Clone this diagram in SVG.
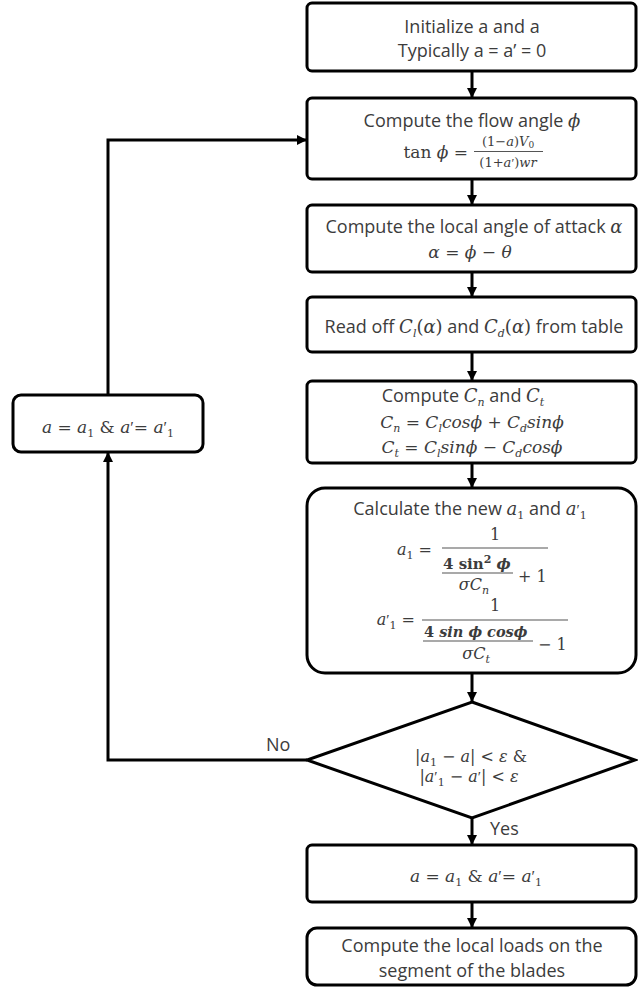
<svg xmlns="http://www.w3.org/2000/svg" width="638" height="990" viewBox="0 0 638 990">
<defs>
<style>
.box{fill:#fff;stroke:#000;stroke-width:3}
.c{fill:none;stroke:#000;stroke-width:3}
.fl{stroke:#555;stroke-width:1.2}
.t{font-family:"Open Sans","Liberation Sans",sans-serif;font-size:18px;fill:#3c3c3c}
.m{font-family:"DejaVu Serif","Liberation Serif",serif;font-style:italic;font-size:17px;fill:#3c3c3c}
.m2{font-family:"DejaVu Serif","Liberation Serif",serif;font-style:italic;font-size:16px;fill:#3c3c3c}
.mi{font-family:"DejaVu Serif","Liberation Serif",serif;font-style:italic}
.mr{font-family:"DejaVu Serif","Liberation Serif",serif;font-style:normal}
.pr{font-family:"Liberation Serif",serif;font-style:normal}
.sb{font-size:11px}
.mid{text-anchor:middle}
.end{text-anchor:end}
</style>
<marker id="ah" markerUnits="userSpaceOnUse" markerWidth="10" markerHeight="10" refX="10" refY="5" orient="auto">
<path d="M0,0 L10,5 L0,10 z" fill="#000"/>
</marker>
</defs>
<rect width="638" height="990" fill="#fff"/>

<g id="connectors">
<line class="c" x1="472" y1="71" x2="472" y2="98" marker-end="url(#ah)"/>
<line class="c" x1="472" y1="179" x2="472" y2="205" marker-end="url(#ah)"/>
<line class="c" x1="472" y1="272" x2="472" y2="297" marker-end="url(#ah)"/>
<line class="c" x1="472" y1="352" x2="472" y2="381" marker-end="url(#ah)"/>
<line class="c" x1="472" y1="463" x2="472" y2="488" marker-end="url(#ah)"/>
<line class="c" x1="472" y1="673" x2="472" y2="702" marker-end="url(#ah)"/>
<line class="c" x1="472" y1="818" x2="472" y2="845" marker-end="url(#ah)"/>
<line class="c" x1="472" y1="902" x2="472" y2="928" marker-end="url(#ah)"/>
<path class="c" d="M307,760 H108 V452" marker-end="url(#ah)"/>
<path class="c" d="M108,395 V140 H307" marker-end="url(#ah)"/>
<text class="t" x="266" y="751">No</text>
<text class="t" x="490" y="835">Yes</text>
</g>

<g id="init">
<rect class="box" x="307" y="3" width="329" height="68" rx="5"/>
<text class="t mid" x="472" y="33">Initialize a and a</text>
<text class="t mid" x="472" y="57">Typically a = a’ = 0</text>
</g>

<g id="flow-angle">
<rect class="box" x="307" y="98" width="329" height="81" rx="5"/>
<text class="t mid" x="472" y="127">Compute the flow angle <tspan class="mi">ϕ</tspan></text>
<text class="m end" x="468" y="158"><tspan class="mr">tan </tspan>ϕ<tspan class="mr"> =</tspan></text>
<text class="m mid" x="508" y="146" style="font-size:13px"><tspan class="mr">(1−</tspan>a<tspan class="mr">)</tspan>V<tspan style="font-size:9px" class="mr" dy="2">0</tspan></text>
<line class="fl" x1="474" y1="151.5" x2="543" y2="151.5"/>
<text class="m mid" x="508" y="167" style="font-size:13px"><tspan class="mr">(1+</tspan>a<tspan class="pr">′</tspan><tspan class="mr">)</tspan>wr</text>
</g>

<g id="attack-angle">
<rect class="box" x="307" y="205" width="329" height="67" rx="5"/>
<text class="t mid" x="474" y="233">Compute the local angle of attack <tspan class="mi">α</tspan></text>
<text class="m mid" x="470" y="258">α = ϕ − θ</text>
</g>

<g id="read-table">
<rect class="box" x="307" y="297" width="329" height="55" rx="5"/>
<text class="t mid" x="474" y="333">Read off <tspan class="mi">C</tspan><tspan class="mi sb" dy="4">l</tspan><tspan class="mr" dy="-4">(</tspan><tspan class="mi">α</tspan><tspan class="mr">)</tspan> and <tspan class="mi">C</tspan><tspan class="mi sb" dy="4">d</tspan><tspan class="mr" dy="-4">(</tspan><tspan class="mi">α</tspan><tspan class="mr">)</tspan> from table</text>
</g>

<g id="cn-ct">
<rect class="box" x="307" y="381" width="329" height="82" rx="5"/>
<text class="t mid" x="463" y="402">Compute <tspan class="mi">C</tspan><tspan class="mi sb" dy="4">n</tspan><tspan dy="-4"> and </tspan><tspan class="mi">C</tspan><tspan class="mi sb" dy="4">t</tspan></text>
<text class="m mid" x="472" y="428">C<tspan class="sb" dy="4">n</tspan><tspan class="mr" dy="-4"> = </tspan>C<tspan class="sb" dy="4">l</tspan><tspan dy="-4">cosϕ</tspan><tspan class="mr"> + </tspan>C<tspan class="sb" dy="4">d</tspan><tspan dy="-4">sinϕ</tspan></text>
<text class="m mid" x="472" y="453">C<tspan class="sb" dy="4">t</tspan><tspan class="mr" dy="-4"> = </tspan>C<tspan class="sb" dy="4">l</tspan><tspan dy="-4">sinϕ</tspan><tspan class="mr"> − </tspan>C<tspan class="sb" dy="4">d</tspan><tspan dy="-4">cosϕ</tspan></text>
</g>

<g id="new-a">
<rect class="box" x="307" y="488" width="329" height="185" rx="18"/>
<text class="t mid" x="470" y="515">Calculate the new <tspan class="mi">a</tspan><tspan class="mr sb" dy="4">1</tspan><tspan dy="-4"> and </tspan><tspan class="mi">a</tspan><tspan class="pr" style="font-size:15px">′</tspan><tspan class="mr sb" dy="4">1</tspan></text>
<text class="m2 end" x="432" y="555">a<tspan class="mr sb" dy="4">1</tspan><tspan class="mr" dy="-4"> =</tspan></text>
<text class="m2 mid" x="495" y="540"><tspan class="mr">1</tspan></text>
<line class="fl" x1="442" y1="548" x2="548" y2="548"/>
<text class="m2" x="443" y="569" style="font-weight:bold;font-size:15px"><tspan class="mr">4 sin</tspan><tspan class="mr sb" dy="-6">2</tspan><tspan dy="6"> ϕ</tspan></text>
<line class="fl" x1="442" y1="573" x2="513" y2="573"/>
<text class="m2 mid" x="474" y="590">σC<tspan class="sb" dy="4">n</tspan></text>
<text class="m2" x="518" y="582"><tspan class="mr">+ 1</tspan></text>

<text class="m2 end" x="415" y="625">a<tspan class="pr" style="font-size:15px">′</tspan><tspan class="mr sb" dy="4">1</tspan><tspan class="mr" dy="-4"> =</tspan></text>
<text class="m2 mid" x="495" y="611"><tspan class="mr">1</tspan></text>
<line class="fl" x1="422" y1="620" x2="568" y2="620"/>
<text class="m2" x="424" y="637" style="font-weight:bold;font-size:14.5px"><tspan class="mr">4 </tspan>sin ϕ cosϕ</text>
<line class="fl" x1="423" y1="641" x2="533" y2="641"/>
<text class="m2 mid" x="476" y="659">σC<tspan class="sb" dy="4">t</tspan></text>
<text class="m2" x="538" y="650"><tspan class="mr">− 1</tspan></text>
</g>

<g id="check">
<polygon class="box" points="472,702 635,760 472,818 307,760"/>
<text class="m2 mid" x="471" y="762"><tspan class="mr">|</tspan>a<tspan class="mr sb" dy="4">1</tspan><tspan class="mr" dy="-4"> − </tspan>a<tspan class="mr">| &lt; </tspan>ε<tspan class="mr"> &amp;</tspan></text>
<text class="m2 mid" x="469" y="782"><tspan class="mr">|</tspan>a<tspan class="pr" style="font-size:15px">′</tspan><tspan class="mr sb" dy="4">1</tspan><tspan class="mr" dy="-4"> − </tspan>a<tspan class="pr" style="font-size:15px">′</tspan><tspan class="mr">| &lt; </tspan>ε</text>
</g>

<g id="update">
<rect class="box" x="307" y="845" width="329" height="57" rx="5"/>
<text class="m mid" x="476" y="882">a<tspan class="mr"> = </tspan>a<tspan class="mr sb" dy="4">1</tspan><tspan class="mr" dy="-4"> &amp; </tspan>a<tspan class="pr" style="font-size:16px">′</tspan><tspan class="mr">= </tspan>a<tspan class="pr" style="font-size:16px">′</tspan><tspan class="mr sb" dy="4">1</tspan></text>
</g>

<g id="loads">
<rect class="box" x="307" y="928" width="329" height="57" rx="10"/>
<text class="t mid" x="472" y="952">Compute the local loads on the</text>
<text class="t mid" x="472" y="977">segment of the blades</text>
</g>

<g id="reset">
<rect class="box" x="13" y="395" width="190" height="57" rx="8"/>
<text class="m mid" x="108" y="433">a<tspan class="mr"> = </tspan>a<tspan class="mr sb" dy="4">1</tspan><tspan class="mr" dy="-4"> &amp; </tspan>a<tspan class="pr" style="font-size:16px">′</tspan><tspan class="mr">= </tspan>a<tspan class="pr" style="font-size:16px">′</tspan><tspan class="mr sb" dy="4">1</tspan></text>
</g>
</svg>
